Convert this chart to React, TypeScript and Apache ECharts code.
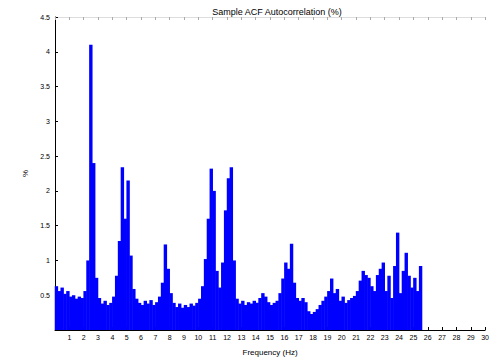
import React, { useEffect, useRef } from "react";
import * as echarts from "echarts";

const titleText = "Sample ACF Autocorrelation (%)";
const xAxisName = "Frequency (Hz)";
const yAxisName = "%";
const binStart = 0;
const binStep = 0.2;
const values: number[] = [
  0.63, 0.56, 0.61, 0.52, 0.56, 0.48, 0.5, 0.45, 0.48, 0.46,
  0.56, 1.0, 4.1, 2.4, 0.75, 0.46, 0.38, 0.42, 0.36, 0.39,
  0.48, 0.78, 1.28, 2.34, 1.6, 2.15, 1.07, 0.59, 0.45, 0.39,
  0.36, 0.42, 0.38, 0.43, 0.36, 0.4, 0.48, 0.68, 1.23, 0.88,
  0.53, 0.39, 0.33, 0.38, 0.32, 0.36, 0.33, 0.38, 0.35, 0.39,
  0.45, 0.63, 1.02, 1.6, 2.32, 2.0, 0.85, 0.61, 0.97, 1.72,
  2.18, 2.34, 1.0, 0.45, 0.38, 0.42, 0.36, 0.4, 0.38, 0.42,
  0.39, 0.46, 0.53, 0.48, 0.4, 0.36, 0.39, 0.42, 0.53, 0.74,
  0.97, 0.88, 1.24, 0.68, 0.46, 0.42, 0.46, 0.4, 0.27, 0.23,
  0.26, 0.3, 0.36, 0.42, 0.48, 0.56, 0.74, 0.53, 0.59, 0.42,
  0.48, 0.39, 0.43, 0.46, 0.49, 0.56, 0.71, 0.85, 0.79, 0.75,
  0.63, 0.56, 0.79, 0.88, 0.97, 0.56, 0.78, 0.46, 0.92, 1.4,
  0.53, 0.85, 1.11, 0.78, 0.61, 0.75, 0.56, 0.92,
];
const xMin = 0;
const xMax = 30;
const xInterval = 1;
const yMin = 0;
const yMax = 4.5;
const yInterval = 0.5;

export default function App() {
  const ref = useRef<HTMLDivElement>(null);
  useEffect(() => {
    document.body.style.margin = "0";
    if (!ref.current) return;
    const chart = echarts.init(ref.current, null, { renderer: "svg" });
    const pts = values.map((v, i) => [binStart + (i + 0.5) * binStep, v]);
    const font = "Liberation Sans";
    chart.setOption({
      animation: false,
      title: {
        text: titleText,
        left: 272,
        top: 2,
        textAlign: "center",
        textStyle: { fontSize: 9, fontWeight: "normal", color: "#000", fontFamily: font },
      },
      grid: { left: 55, right: 2, top: 17, bottom: 34, containLabel: false },
      xAxis: [
        {
          type: "value",
          min: xMin,
          max: xMax,
          interval: xInterval,
          name: xAxisName,
          nameLocation: "middle",
          nameGap: 18,
          nameTextStyle: { fontSize: 8, color: "#000", fontFamily: font },
          axisLine: { lineStyle: { color: "#000", width: 1 } },
          axisTick: { inside: true, length: 3, lineStyle: { color: "#000" } },
          axisLabel: { fontSize: 7, color: "#000", margin: 4, showMinLabel: false, fontFamily: font },
          splitLine: { show: false },
        },
        {
          type: "value",
          position: "top",
          min: xMin,
          max: xMax,
          interval: xInterval,
          axisLine: { lineStyle: { color: "#ddd", width: 1 } },
          axisTick: { inside: true, length: 3, lineStyle: { color: "#aaa" } },
          axisLabel: { show: false },
          splitLine: { show: false },
        },
      ],
      yAxis: {
        type: "value",
        min: yMin,
        max: yMax,
        interval: yInterval,
        name: yAxisName,
        nameLocation: "middle",
        nameGap: 20,
        nameTextStyle: { fontSize: 8, color: "#000", fontFamily: font },
        axisLine: { show: true, lineStyle: { color: "#000", width: 1 } },
        axisTick: { inside: true, length: 3, lineStyle: { color: "#000" } },
        axisLabel: { fontSize: 7, color: "#000", margin: 5, showMinLabel: false, fontFamily: font },
        splitLine: { show: false },
      },
      series: [
        {
          type: "bar",
          data: pts,
          barWidth: 3.4,
          itemStyle: { color: "#0000ff" },
          silent: true,
        },
      ],
    });
    return () => chart.dispose();
  }, []);
  return <div ref={ref} style={{ width: 492, height: 364 }} />;
}
